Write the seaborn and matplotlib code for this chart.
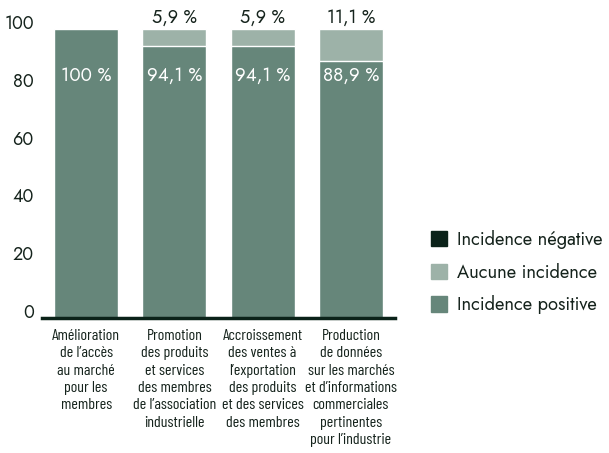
import matplotlib
matplotlib.use("Agg")
import matplotlib.pyplot as plt
import matplotlib.transforms as mtransforms
from matplotlib import font_manager
from matplotlib.patches import Patch
import seaborn as sns
import pandas as pd

# -----------------------------
# Data
# -----------------------------
categories = [
    "Amélioration\nde l’accès\nau marché\npour les\nmembres",
    "Promotion\ndes produits\net services\ndes membres\nde l’association\nindustrielle",
    "Accroissement\ndes ventes à\nl’exportation\ndes produits\net des services\ndes membres",
    "Production\nde données\nsur les marchés\net d’informations\ncommerciales\npertinentes\npour l’industrie",
]
positive = [100, 94.1, 94.1, 88.9]
no_effect = [0, 5.9, 5.9, 11.1]
negative = [0, 0, 0, 0]
positive_labels = ["100 %", "94,1 %", "94,1 %", "88,9 %"]
no_effect_labels = ["", "5,9 %", "5,9 %", "11,1 %"]
legend_labels = ["Incidence négative", "Aucune incidence", "Incidence positive"]

c_pos = "#66867a"
c_none = "#9db2a8"
c_neg = "#0b2219"
c_text = "#15231c"

installed = {f.name for f in font_manager.fontManager.ttflist}


def pick(*names):
    for n in names:
        if n in installed:
            return n
    return "DejaVu Sans"


main_font = pick("Jost", "Lato")
narrow_font = pick("Barlow Condensed", "Archivo Narrow", "Liberation Sans Narrow")

sns.set_style("white")
plt.rcParams["font.family"] = [main_font, "DejaVu Sans"]

df = pd.DataFrame({
    "cat": categories,
    "pos": positive,
    "total": [p + n + g for p, n, g in zip(positive, no_effect, negative)],
})

fig = plt.figure(figsize=(6.09, 4.53), dpi=100)
ax = fig.add_axes([42 / 609, 135 / 453, 353 / 609, 289 / 453])

# stacked: draw totals first, then positive part on top
sns.barplot(data=df, x="cat", y="total", color=c_none, width=0.725,
            saturation=1, ax=ax)
sns.barplot(data=df, x="cat", y="pos", color=c_pos, width=0.725,
            saturation=1, ax=ax)

ax.set_xlim(-0.5, 3.5)
ax.set_ylim(0, 100)
ax.set_xlabel("")
ax.set_ylabel("")

# value labels
for i, lab in enumerate(positive_labels):
    ax.text(i, 84, lab, ha="center", va="center", color="white", fontsize=13.5)
for i, lab in enumerate(no_effect_labels):
    if lab:
        ax.text(i, 104, lab, ha="center", va="center", color=c_text,
                fontsize=13, clip_on=False)

for s in ["top", "right", "left"]:
    ax.spines[s].set_visible(False)
ax.spines["bottom"].set_color(c_neg)
ax.spines["bottom"].set_linewidth(2.5)

ax.set_yticks([0, 20, 40, 60, 80, 100])
ax.tick_params(axis="y", length=0, pad=6, labelsize=13, labelcolor=c_text)
ax.tick_params(axis="x", length=0, pad=8, labelcolor=c_text)
shift = mtransforms.ScaledTranslation(0, 0.075, fig.dpi_scale_trans)
for t in ax.get_yticklabels():
    t.set_transform(t.get_transform() + shift)
for t in ax.get_xticklabels():
    t.set_family([narrow_font, "DejaVu Sans"])
    t.set_fontsize(11.5)
    t.set_linespacing(1.3)

handles = [Patch(color=c_neg), Patch(color=c_none), Patch(color=c_pos)]
fig.legend(handles, legend_labels, loc="center left",
           bbox_to_anchor=(431 / 609, 1 - 272 / 453), frameon=False,
           fontsize=13.2, handlelength=0.85, handleheight=0.9,
           handletextpad=0.55, labelspacing=0.75, labelcolor=c_text,
           borderaxespad=0, borderpad=0)

fig.savefig("out.png", dpi=100)
